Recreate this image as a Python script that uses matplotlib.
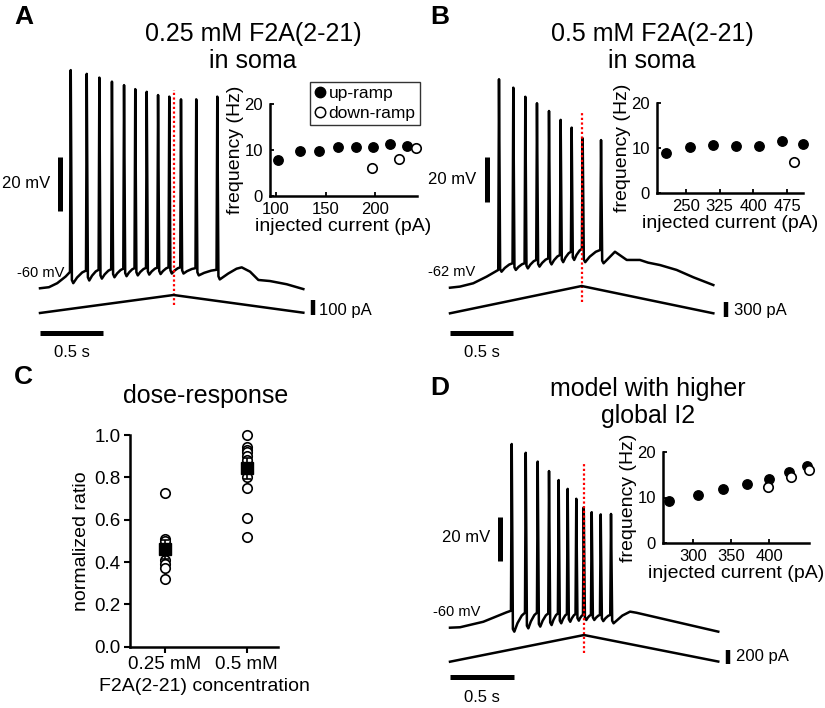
import numpy as np
import matplotlib
matplotlib.use("Agg")
from matplotlib import pyplot as plt
from matplotlib.lines import Line2D

plt.rcParams['font.family'] = ['Liberation Sans', 'DejaVu Sans']

W, H = 825, 708

### traces (time in s, membrane potential in mV)
# panel A, 0.25 mM
a_pre = [(0.0, -60.1), (0.071, -59.7), (0.137, -58.2), (0.204, -55.7)]
a_spk_t = [0.244, 0.371, 0.471, 0.571, 0.667, 0.756, 0.847, 0.937, 1.026, 1.119, 1.240, 1.407]
a_spk_peak = [21.3, 19.9, 18.5, 17.0, 15.7, 14.2, 13.2, 12.0, 11.4, 10.4, 10.4, 11.4]
a_spk_foot = [-54.0, -53.5, -53.2, -53.0, -52.8, -52.6, -52.5, -52.4, -52.3, -52.3, -52.6, -53.2]
a_spk_trough = [-58.2, -57.2, -56.5, -56.0, -55.6, -55.3, -55.0, -54.8, -54.6, -54.6, -55.3, -56.8]
a_post = [(1.494, -54.6), (1.56, -52.8), (1.601, -52.3), (1.667, -53.9), (1.733, -57.0),
          (1.825, -57.4), (1.958, -58.6), (2.09, -60.4)]
a_ramp_t = [0.0, 1.06, 2.09]
a_ramp_pa = [110, 230, 112]

# panel B, 0.5 mM
b_pre = [(0.0, -62.0), (0.079, -61.5), (0.184, -60.0), (0.29, -57.0)]
b_spk_t = [0.387, 0.500, 0.595, 0.687, 0.782, 0.874, 0.961, 1.048, 1.193]
b_spk_peak = [31.9, 28.1, 24.0, 21.1, 17.6, 13.6, 10.1, 5.3, 4.5]
b_spk_foot = [-54.0, -51.0, -51.0, -49.5, -48.8, -47.3, -45.8, -44.5, -45.0]
b_spk_trough = [-54.8, -54.0, -53.3, -52.5, -51.5, -50.5, -49.5, -50.5, -51.0]
b_post = [(1.303, -45.8), (1.396, -49.5), (1.5, -49.5), (1.564, -50.7), (1.659, -51.8),
          (1.79, -54.0), (1.922, -57.3), (2.08, -60.8)]
b_ramp_t = [0.0, 1.04, 2.08]
b_ramp_pa = [0, 546, 0]

# panel D, model
d_pre = [(0.0, -60.0), (0.078, -59.8), (0.259, -57.3), (0.44, -53.0)]
d_spk_t = [0.480, 0.589, 0.682, 0.770, 0.845, 0.915, 0.982, 1.040, 1.102, 1.172, 1.252]
d_spk_peak = [23.5, 19.5, 15.5, 11.2, 7.1, 3.1, -1.4, -5.3, -7.5, -8.5, -8.3]
d_spk_foot = [-52.3, -53.2, -53.2, -53.5, -53.5, -53.8, -53.8, -54.2, -54.2, -54.2, -54.2]
d_spk_trough = [-61.8, -60.3, -59.5, -58.8, -58.0, -57.3, -56.8, -56.5, -56.5, -57.0, -58.0]
d_post = [(1.34, -54.5), (1.40, -52.7), (1.45, -53.2), (2.086, -61.8)]
d_ramp_t = [0.0, 1.042, 2.086]
d_ramp_pa = [85, 466, 87]

### f-I insets
a_up_i = [101.7, 124.2, 143.4, 162.3, 180.5, 197.3, 215.2, 232.0]
a_up_f = [7.8, 9.7, 9.85, 10.6, 10.7, 10.65, 11.3, 10.9]
a_down_i = [241.4, 223.9, 196.6]
a_down_f = [10.5, 8.0, 6.0]

b_up_i = [205.8, 259.5, 311.0, 361.0, 412.8, 462.4, 510.2]
b_up_f = [9.0, 10.2, 10.7, 10.5, 10.5, 11.6, 10.9]
b_down_i = [490.3]
b_down_f = [6.8]

d_up_i = [267.4, 306.0, 339.7, 371.2, 400.0, 426.4, 450.6]
d_up_f = [9.15, 10.5, 11.8, 12.9, 14.1, 15.5, 17.0]
d_down_i = [397.9, 428.2, 452.6]
d_down_f = [12.3, 14.4, 16.1]

### dose-response
dose_labels = ['0.25 mM', '0.5 mM']
dose_025 = [0.725, 0.51, 0.50, 0.41, 0.39, 0.37, 0.32]
dose_05 = [1.0, 0.945, 0.93, 0.92, 0.90, 0.88, 0.80, 0.75, 0.61, 0.52]
dose_mean = [0.46, 0.843]
dose_sem = [0.045, 0.05]


fig = plt.figure(figsize=(W / 100, H / 100), dpi=100)
fig.patch.set_facecolor('white')


def rect(x0, y0, x1, y1):
    return [x0 / W, 1 - y1 / H, (x1 - x0) / W, (y1 - y0) / H]


def trace_axes(x0, y0, x1, y1, px_per_s, yref, vref, px_per_unit):
    # x0 is where t = 0 sits
    ax = fig.add_axes(rect(x0, y0, x1, y1))
    ax.set_xlim(0, (x1 - x0) / px_per_s)
    ax.set_ylim(vref - (y1 - yref) / px_per_unit, vref + (yref - y0) / px_per_unit)
    ax.axis('off')
    return ax


def to_data(ax, x, y):
    return ax.transData.inverted().transform((x, H - y))


def build_trace(pre, spk_t, peak, foot, trough, post):
    t = [p[0] for p in pre]
    v = [p[1] for p in pre]
    n = len(spk_t)
    for i in range(n):
        ts = spk_t[i]
        t += [ts - 0.006, ts, ts + 0.009, ts + 0.02]
        v += [foot[i], peak[i], trough[i] + 1.2, trough[i]]
        if i < n - 1:
            gap = (spk_t[i + 1] - 0.006) - (ts + 0.02)
            t += [ts + 0.02 + 0.3 * gap, ts + 0.02 + 0.7 * gap]
            v += [trough[i] + 0.45 * (foot[i + 1] - trough[i]),
                  trough[i] + 0.85 * (foot[i + 1] - trough[i])]
    t += [p[0] for p in post]
    v += [p[1] for p in post]
    return t, v


def vbar(ax, x, y_bottom, length, lw=3.6):
    dx, dy = to_data(ax, x, y_bottom)
    ax.plot([dx, dx], [dy, dy + length], color='k', lw=lw, solid_capstyle='butt', clip_on=False)


def hbar(ax, x_left, y, length, lw=3.6):
    dx, dy = to_data(ax, x_left, y)
    ax.plot([dx, dx + length], [dy, dy], color='k', lw=lw, solid_capstyle='butt', clip_on=False)


def red_line(ax, t, y_top, y_bot):
    _, v0 = to_data(ax, 0, y_bot)
    _, v1 = to_data(ax, 0, y_top)
    ax.plot([t, t], [v0, v1], color='red', ls=(0, (1, 1.1)), lw=1.6, clip_on=False, zorder=5)


def ftxt(x, y, s, size=12, ha='left', va='center', **kw):
    fig.text(x / W, 1 - y / H, s, fontsize=size, ha=ha, va=va, **kw)


def trace_panel(v_box, i_box, px_per_s, vref, yref, px_mv, iref, yiref, px_pa,
                pre, spk_t, peak, foot, trough, post, ramp_t, ramp_pa,
                red, mv_bar, t_bar_y, pa_bar, pa_len):
    axv = trace_axes(*v_box, px_per_s, yref, vref, px_mv)
    t, v = build_trace(pre, spk_t, peak, foot, trough, post)
    axv.plot(t, v, color='k', lw=1.8, clip_on=False, solid_joinstyle='round')
    axi = trace_axes(*i_box, px_per_s, yiref, iref, px_pa)
    axi.plot(ramp_t, ramp_pa, color='k', lw=1.8, clip_on=False)
    red_line(axv, ramp_t[1], *red)
    vbar(axv, mv_bar[0], mv_bar[1], 20)
    hbar(axi, v_box[0], t_bar_y, 0.5)
    vbar(axi, pa_bar[0], pa_bar[1], pa_len, lw=3.2)
    return axv, axi


# A
trace_panel((40, 60, 310, 300), (40, 285, 330, 345), 126, -60, 288, 2.68, 110, 313, 0.15,
            a_pre, a_spk_t, a_spk_peak, a_spk_foot, a_spk_trough, a_post, a_ramp_t, a_ramp_pa,
            (90, 305), (59.5, 211), 333, (312.5, 315), 100)
ftxt(50, 184, '20 mV', ha='right')
ftxt(64, 273, '-60 mV', size=10.5, ha='right')
ftxt(72, 352, '0.5 s', ha='center')
ftxt(319, 310, '100 pA')

# B
trace_panel((450, 60, 720, 300), (450, 280, 740, 345), 126.6, -62, 287.7, 2.22, 0, 313.3, 0.05,
            b_pre, b_spk_t, b_spk_peak, b_spk_foot, b_spk_trough, b_post, b_ramp_t, b_ramp_pa,
            (111, 302), (486.7, 201.7), 333, (725.5, 316.7), 300)
ftxt(476, 180, '20 mV', ha='right')
ftxt(475, 272, '-62 mV', size=10.5, ha='right')
ftxt(482, 352, '0.5 s', ha='center')
ftxt(734, 311, '300 pA')

# D
trace_panel((450, 430, 725, 640), (450, 625, 740, 690), 128.6, -60, 627.7, 2.2, 85, 661.7, 0.07,
            d_pre, d_spk_t, d_spk_peak, d_spk_foot, d_spk_trough, d_post, d_ramp_t, d_ramp_pa,
            (462, 653), (500, 560.7), 677.3, (728.3, 664), 200)
ftxt(490, 537, '20 mV', ha='right')
ftxt(480, 612, '-60 mV', size=10.5, ha='right')
ftxt(482, 697, '0.5 s', ha='center')
ftxt(736, 657, '200 pA')


def fi_inset(box, xlim, xticks, up_i, up_f, down_i, down_f):
    ax = fig.add_axes(rect(*box))
    ax.plot(up_i, up_f, 'o', color='k', ms=6.8, clip_on=False, zorder=3)
    ax.plot(down_i, down_f, 'o', mfc='white', mec='k', mew=1.2, ms=6.8, clip_on=False, zorder=4)
    ax.set_xlim(*xlim)
    ax.set_ylim(0, 20)
    ax.set_xticks(xticks)
    ax.set_yticks([0, 10, 20])
    for s in ['top', 'right']:
        ax.spines[s].set_visible(False)
    for s in ['left', 'bottom']:
        ax.spines[s].set_linewidth(1.8)
    ax.tick_params(direction='in', length=3, width=1.3, labelsize=12)
    ax.tick_params(axis='y', pad=5)
    ax.tick_params(axis='x', pad=4.5)
    ax.set_xlabel('injected current (pA)', fontsize=14, labelpad=0.5)
    ax.set_ylabel('frequency (Hz)', fontsize=14, labelpad=0)
    ax.patch.set_alpha(0)
    return ax


axa = fi_inset((270, 104, 417, 196), (94, 242), [100, 150, 200], a_up_i, a_up_f, a_down_i, a_down_f)
fi_inset((657, 103, 803, 193), (186, 510), [250, 325, 400, 475], b_up_i, b_up_f, b_down_i, b_down_f)
fi_inset((663, 452, 809, 543), (260, 452.6), [300, 350, 400], d_up_i, d_up_f, d_down_i, d_down_f)

handles = [Line2D([], [], ls='', marker='o', color='k', ms=7.5),
           Line2D([], [], ls='', marker='o', mfc='white', mec='k', mew=1.1, ms=7.5)]
leg = axa.legend(handles, ['up-ramp', 'down-ramp'], loc='upper right',
                 bbox_to_anchor=(420 / W, 1 - 82 / H), bbox_transform=fig.transFigure,
                 fontsize=12.5, frameon=True, fancybox=False, edgecolor='k',
                 handlelength=0.6, handletextpad=0.2, borderpad=0.25, labelspacing=0.25,
                 borderaxespad=0)
leg.get_frame().set_linewidth(1.0)

# C
axc = fig.add_axes(rect(130, 435, 278.3, 646.7))
axc.plot([0] * len(dose_025), dose_025, 'o', mfc='white', mec='k', mew=1.2, ms=6.8, clip_on=False)
axc.plot([1] * len(dose_05), dose_05, 'o', mfc='white', mec='k', mew=1.2, ms=6.8, clip_on=False)
axc.errorbar([0, 1], dose_mean, yerr=dose_sem, fmt='s', color='k', ms=9, capsize=3,
             elinewidth=1.2, capthick=1.2, zorder=4, clip_on=False)
axc.set_xlim(-0.43, 1.39)
axc.set_ylim(0, 1.0)
axc.set_xticks([0, 1])
axc.set_xticklabels(dose_labels)
axc.set_yticks([0, 0.2, 0.4, 0.6, 0.8, 1.0])
axc.set_yticklabels(['0.0', '0.2', '0.4', '0.6', '0.8', '1.0'])
for s in ['top', 'right']:
    axc.spines[s].set_visible(False)
for s in ['left', 'bottom']:
    axc.spines[s].set_linewidth(1.8)
axc.tick_params(direction='out', length=4, width=1.5, labelsize=13.5, pad=3)
axc.set_ylabel('normalized ratio', fontsize=14, labelpad=3)
axc.set_xlabel('F2A(2-21) concentration', fontsize=14, labelpad=3)

# titles and panel letters
ftxt(253, 34, '0.25 mM F2A(2-21)', size=18, ha='center')
ftxt(253, 61, 'in soma', size=18, ha='center')
ftxt(652, 34, '0.5 mM F2A(2-21)', size=18, ha='center')
ftxt(652, 61, 'in soma', size=18, ha='center')
ftxt(206, 396, 'dose-response', size=18, ha='center')
ftxt(648, 389, 'model with higher', size=18, ha='center')
ftxt(648, 416, 'global I2', size=18, ha='center')
for x, y, s in [(14, 17, 'A'), (430, 17, 'B'), (14, 377, 'C'), (430, 388, 'D')]:
    ftxt(x, y, s, size=19, fontweight='bold')

fig.savefig('out.png', dpi=100, facecolor='white')
